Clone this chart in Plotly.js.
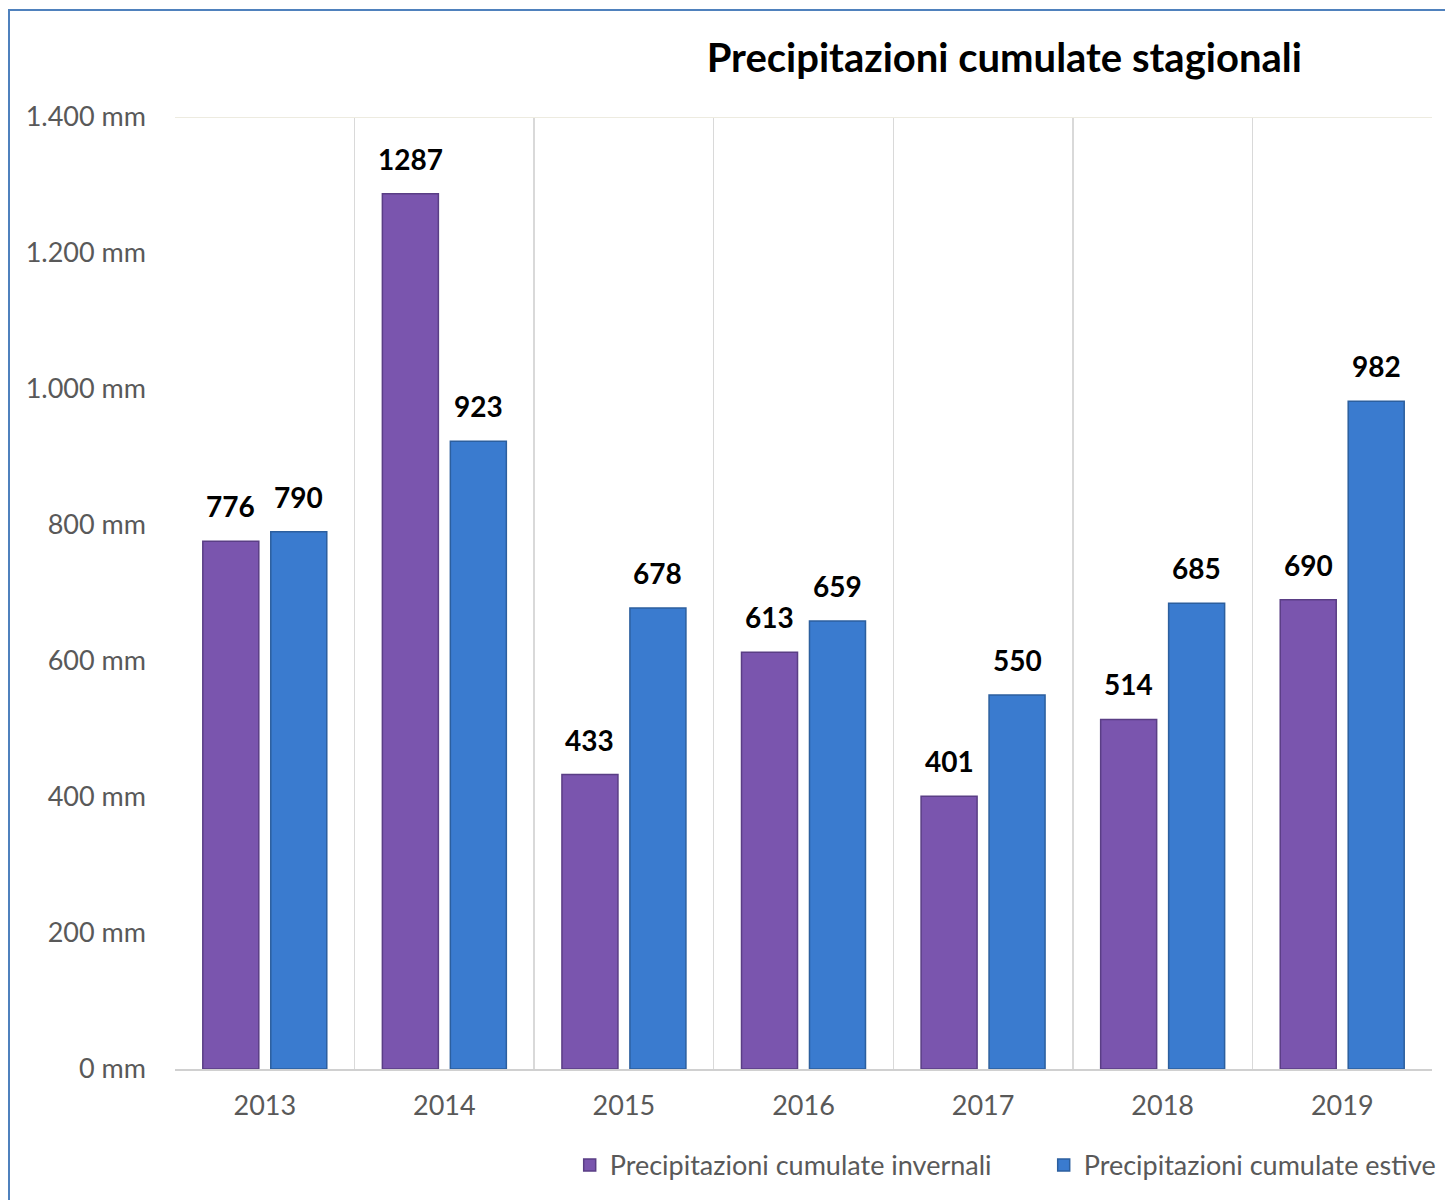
<!DOCTYPE html>
<html>
<head>
<meta charset="utf-8">
<script src="https://cdn.plot.ly/plotly-3.0.1.min.js"></script>
<style>
  html, body { margin: 0; padding: 0; background: #fff; overflow: hidden; }
  #wrap { position: relative; width: 1445px; height: 1200px; overflow: hidden; }
  #chart { position: absolute; left: 0; top: 0; width: 1445px; height: 1200px; }
  #frame { position: absolute; left: 8px; top: 9px; width: 1500px; height: 1300px;
           border: 2px solid #4F81BD; box-sizing: border-box; pointer-events: none; }
</style>
</head>
<body>
<div id="wrap">
  <div id="chart"></div>
  <div id="frame"></div>
</div>
<script>
const years = ['2013', '2014', '2015', '2016', '2017', '2018', '2019'];
const invernali = [776, 1287, 433, 613, 401, 514, 690];
const estive = [790, 923, 678, 659, 550, 685, 982];
const seriesNames = ['Precipitazioni cumulate invernali', 'Precipitazioni cumulate estive'];
const yTickVals = [0, 200, 400, 600, 800, 1000, 1200, 1400];
const yTickText = ['0 mm', '200 mm', '400 mm', '600 mm', '800 mm', '1.000 mm', '1.200 mm', '1.400 mm'];

const FONT = 'Lato, "Open Sans", sans-serif';
const purple = '#7A55AE';
const blue = '#3A7BCF';

const traces = [
  {
    type: 'bar', x: years, y: invernali, name: seriesNames[0],
    marker: { color: purple, line: { color: '#5A3E85', width: 1.5 } },
    hoverinfo: 'y'
  },
  {
    type: 'bar', x: years, y: estive, name: seriesNames[1],
    marker: { color: blue, line: { color: '#2C5F9E', width: 1.5 } },
    hoverinfo: 'y'
  }
];

const annotations = [];
const shift = 34;
years.forEach((yr, i) => {
  annotations.push({
    x: i, y: invernali[i], xref: 'x', yref: 'y', text: String(invernali[i]),
    showarrow: false, xshift: -shift, yshift: 16, yanchor: 'bottom',
    font: { family: FONT, size: 28, color: '#000', weight: 'bold' }
  });
  annotations.push({
    x: i, y: estive[i], xref: 'x', yref: 'y', text: String(estive[i]),
    showarrow: false, xshift: shift, yshift: 16, yanchor: 'bottom',
    font: { family: FONT, size: 28, color: '#000', weight: 'bold' }
  });
});

const layout = {
  width: 1445, height: 1200,
  margin: { l: 175, r: 13, t: 117, b: 131, autoexpand: false },
  paper_bgcolor: 'rgba(0,0,0,0)',
  plot_bgcolor: '#fff',
  font: { family: FONT, color: '#595959' },
  title: {
    text: '<b>Precipitazioni cumulate stagionali</b>',
    font: { family: FONT, size: 40, color: '#000' },
    x: 0.695, xanchor: 'center', y: 0.952, yanchor: 'middle'
  },
  barmode: 'group',
  bargap: 0.243,
  bargroupgap: 0.176,
  xaxis: {
    type: 'category',
    range: [-0.5, 6.5],
    tickson: 'boundaries',
    showgrid: true, gridcolor: '#D9D9D9', gridwidth: 1.5,
    showline: true, linecolor: '#D0D0D0', linewidth: 2,
    ticks: '', tickangle: 0, tickfont: { family: FONT, size: 27, color: '#595959' },
    ticklabelstandoff: 12,
    zeroline: false
  },
  yaxis: {
    range: [0, 1400],
    tickvals: yTickVals, ticktext: yTickText,
    showgrid: false, zeroline: false, showline: false,
    ticks: '', tickfont: { family: FONT, size: 27, color: '#595959' },
    ticklabelstandoff: 28
  },
  shapes: [
    { type: 'line', xref: 'paper', yref: 'y', x0: 0, x1: 1, y0: 1400, y1: 1400,
      line: { color: '#EDEBE0', width: 2 } }
  ],
  legend: {
    orientation: 'h', x: 0.314, xanchor: 'left', y: -0.0755, yanchor: 'top',
    font: { family: FONT, size: 27, color: '#595959' },
    itemwidth: 30, tracegroupgap: 0, entrywidth: 429
  },
  annotations: annotations
};

Plotly.newPlot('chart', traces, layout, { displayModeBar: false, staticPlot: true });
</script>
</body>
</html>
